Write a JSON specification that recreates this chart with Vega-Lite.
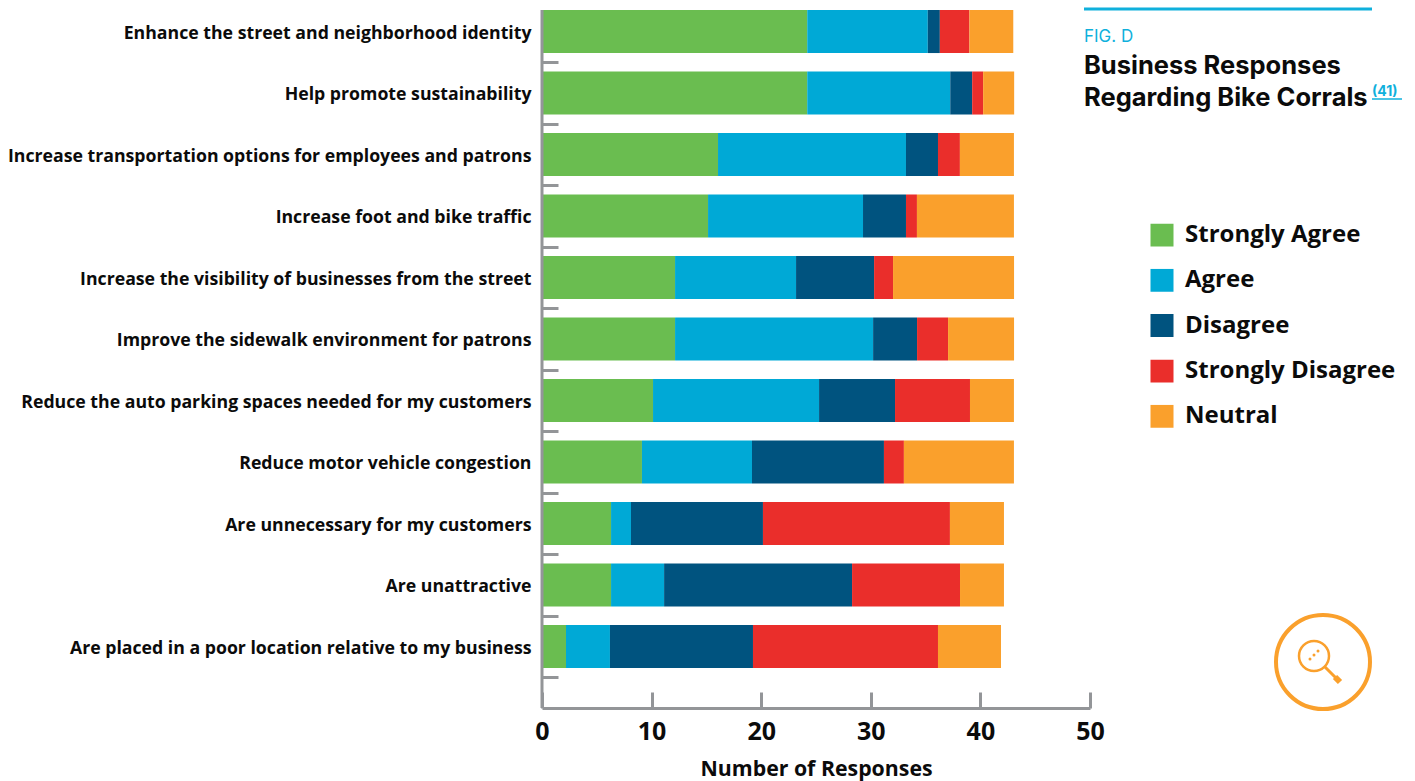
{"$schema":"https://vega.github.io/schema/vega-lite/v6.json","width":548,"height":698,"autosize":"none","padding":{"left":542,"top":10,"right":325,"bottom":73},"background":"white",
"title":{"text":"FIG. D","subtitle":["Business Responses","Regarding Bike Corrals"],"frame":"group","anchor":"start","orient":"top","offset":0,"dx":542,"dy":105,"align":"left","font":"Inter","fontSize":17,"fontWeight":"normal","color":"#0fb0dc","subtitleFont":"Inter","subtitleFontSize":25.5,"subtitleFontWeight":"bold","subtitleColor":"#0b0b0b","subtitleLineHeight":32,"subtitlePadding":8},
"data":{"values":[
{"q":"Enhance the street and neighborhood identity","r":"Strongly Agree","o":1,"n":24.2},{"q":"Enhance the street and neighborhood identity","r":"Agree","o":2,"n":11.0},{"q":"Enhance the street and neighborhood identity","r":"Disagree","o":3,"n":1.1},{"q":"Enhance the street and neighborhood identity","r":"Strongly Disagree","o":4,"n":2.7},{"q":"Enhance the street and neighborhood identity","r":"Neutral","o":5,"n":4.0},
{"q":"Help promote sustainability","r":"Strongly Agree","o":1,"n":24.2},{"q":"Help promote sustainability","r":"Agree","o":2,"n":13.05},{"q":"Help promote sustainability","r":"Disagree","o":3,"n":2.0},{"q":"Help promote sustainability","r":"Strongly Disagree","o":4,"n":1.0},{"q":"Help promote sustainability","r":"Neutral","o":5,"n":2.83},
{"q":"Increase transportation options for employees and patrons","r":"Strongly Agree","o":1,"n":16.06},{"q":"Increase transportation options for employees and patrons","r":"Agree","o":2,"n":17.15},{"q":"Increase transportation options for employees and patrons","r":"Disagree","o":3,"n":2.92},{"q":"Increase transportation options for employees and patrons","r":"Strongly Disagree","o":4,"n":2.0},{"q":"Increase transportation options for employees and patrons","r":"Neutral","o":5,"n":4.93},
{"q":"Increase foot and bike traffic","r":"Strongly Agree","o":1,"n":15.15},{"q":"Increase foot and bike traffic","r":"Agree","o":2,"n":14.14},{"q":"Increase foot and bike traffic","r":"Disagree","o":3,"n":3.92},{"q":"Increase foot and bike traffic","r":"Strongly Disagree","o":4,"n":1.0},{"q":"Increase foot and bike traffic","r":"Neutral","o":5,"n":8.85},
{"q":"Increase the visibility of businesses from the street","r":"Strongly Agree","o":1,"n":12.14},{"q":"Increase the visibility of businesses from the street","r":"Agree","o":2,"n":11.04},{"q":"Increase the visibility of businesses from the street","r":"Disagree","o":3,"n":7.12},{"q":"Increase the visibility of businesses from the street","r":"Strongly Disagree","o":4,"n":1.73},{"q":"Increase the visibility of businesses from the street","r":"Neutral","o":5,"n":11.04},
{"q":"Improve the sidewalk environment for patrons","r":"Strongly Agree","o":1,"n":12.14},{"q":"Improve the sidewalk environment for patrons","r":"Agree","o":2,"n":18.07},{"q":"Improve the sidewalk environment for patrons","r":"Disagree","o":3,"n":4.01},{"q":"Improve the sidewalk environment for patrons","r":"Strongly Disagree","o":4,"n":2.83},{"q":"Improve the sidewalk environment for patrons","r":"Neutral","o":5,"n":6.02},
{"q":"Reduce the auto parking spaces needed for my customers","r":"Strongly Agree","o":1,"n":10.13},{"q":"Reduce the auto parking spaces needed for my customers","r":"Agree","o":2,"n":15.15},{"q":"Reduce the auto parking spaces needed for my customers","r":"Disagree","o":3,"n":6.93},{"q":"Reduce the auto parking spaces needed for my customers","r":"Strongly Disagree","o":4,"n":6.84},{"q":"Reduce the auto parking spaces needed for my customers","r":"Neutral","o":5,"n":4.01},
{"q":"Reduce motor vehicle congestion","r":"Strongly Agree","o":1,"n":9.12},{"q":"Reduce motor vehicle congestion","r":"Agree","o":2,"n":10.04},{"q":"Reduce motor vehicle congestion","r":"Disagree","o":3,"n":12.04},{"q":"Reduce motor vehicle congestion","r":"Strongly Disagree","o":4,"n":1.82},{"q":"Reduce motor vehicle congestion","r":"Neutral","o":5,"n":10.04},
{"q":"Are unnecessary for my customers","r":"Strongly Agree","o":1,"n":6.3},{"q":"Are unnecessary for my customers","r":"Agree","o":2,"n":1.82},{"q":"Are unnecessary for my customers","r":"Disagree","o":3,"n":12.04},{"q":"Are unnecessary for my customers","r":"Strongly Disagree","o":4,"n":17.06},{"q":"Are unnecessary for my customers","r":"Neutral","o":5,"n":4.93},
{"q":"Are unattractive","r":"Strongly Agree","o":1,"n":6.3},{"q":"Are unattractive","r":"Agree","o":2,"n":4.84},{"q":"Are unattractive","r":"Disagree","o":3,"n":17.15},{"q":"Are unattractive","r":"Strongly Disagree","o":4,"n":9.85},{"q":"Are unattractive","r":"Neutral","o":5,"n":4.01},
{"q":"Are placed in a poor location relative to my business","r":"Strongly Agree","o":1,"n":2.19},{"q":"Are placed in a poor location relative to my business","r":"Agree","o":2,"n":4.01},{"q":"Are placed in a poor location relative to my business","r":"Disagree","o":3,"n":13.05},{"q":"Are placed in a poor location relative to my business","r":"Strongly Disagree","o":4,"n":16.88},{"q":"Are placed in a poor location relative to my business","r":"Neutral","o":5,"n":5.75}
]},
"config":{"view":{"stroke":null}},
"layer":[
{"mark":{"type":"bar"},
"encoding":{
"y":{"field":"q","type":"nominal","sort":null,"title":null,"scale":{"range":[0,658],"paddingInner":0.3,"paddingOuter":0},
"axis":{"domain":false,"grid":false,"labelFont":"Open Sans","labelFontWeight":"bold","labelFontSize":17.7,"labelColor":"#0b0b0b","labelLimit":600,"labelPadding":27,"labelOffset":-29,"tickSize":-16,"tickWidth":3,"tickColor":"#939598","tickOffset":30.75}},
"x":{"field":"n","type":"quantitative","stack":"zero","title":"Number of Responses","scale":{"domain":[0,50],"nice":false},
"axis":{"values":[0,10,20,30,40,50],"grid":false,"domainColor":"#939598","domainWidth":3,"tickSize":-16,"tickWidth":3,"tickColor":"#939598","labelFont":"Open Sans","labelFontWeight":"bold","labelFontSize":25,"labelColor":"#0b0b0b","labelPadding":27,"labelFlush":false,"titleFont":"Open Sans","titleFontWeight":"bold","titleFontSize":21.3,"titleColor":"#0b0b0b","titlePadding":14}},
"color":{"field":"r","type":"nominal","scale":{"domain":["Strongly Agree","Agree","Disagree","Strongly Disagree","Neutral"],"range":["#6abd50","#00a9d6","#00537f","#ea2e2b","#faa02c"]},
"legend":{"title":null,"orient":"none","legendX":608,"legendY":213.5,"symbolType":"square","symbolSize":529,"symbolStrokeWidth":0,"symbolOpacity":1,"labelFont":"Open Sans","labelFontWeight":"bold","labelFontSize":24,"labelColor":"#0b0b0b","labelOffset":11,"rowPadding":20.3,"labelLimit":300,"clipHeight":23}},
"order":{"field":"o","type":"quantitative"}}},
{"data":{"values":[{"k":"axis"}]},"mark":{"type":"rule","color":"#939598","strokeWidth":3},"encoding":{"x":{"value":0}}},
{"data":{"values":[{"k":"top line"}]},"mark":{"type":"rule","color":"#0fb0dc","strokeWidth":3},"encoding":{"x":{"value":542},"x2":{"value":830},"y":{"value":-1}}},
{"data":{"values":[{"t":"(41)"}]},"mark":{"type":"text","font":"Inter","fontWeight":"bold","fontSize":14,"color":"#0fb0dc","align":"left","baseline":"middle"},"encoding":{"text":{"field":"t"},"x":{"value":830},"y":{"value":82}}},
{"data":{"values":[{"k":"underline"}]},"mark":{"type":"rule","color":"#0fb0dc","strokeWidth":1.5},"encoding":{"x":{"value":830},"x2":{"value":860},"y":{"value":89}}},
{"data":{"values":[{"k":"ring"}]},"mark":{"type":"point","shape":"circle","filled":false,"color":"#faa02c","strokeWidth":4,"size":8836,"opacity":1},"encoding":{"x":{"value":781},"y":{"value":652}}},
{"data":{"values":[{"k":"lens"}]},"mark":{"type":"point","shape":"circle","filled":false,"color":"#faa02c","strokeWidth":2.5,"size":900,"opacity":1},"encoding":{"x":{"value":772},"y":{"value":646}}},
{"data":{"values":[{"k":"handle"}]},"mark":{"type":"rule","color":"#faa02c","strokeWidth":3},"encoding":{"x":{"value":783},"y":{"value":657},"x2":{"value":795},"y2":{"value":669}}},
{"data":{"values":[{"k":"handle end"}]},"mark":{"type":"rule","color":"#faa02c","strokeWidth":6},"encoding":{"x":{"value":793},"y":{"value":667},"x2":{"value":798},"y2":{"value":672}}},
{"data":{"values":[{"k":"dot"}]},"mark":{"type":"point","shape":"circle","filled":true,"color":"#faa02c","size":9,"opacity":1},"encoding":{"x":{"value":768},"y":{"value":649}}},
{"data":{"values":[{"k":"dot"}]},"mark":{"type":"point","shape":"circle","filled":true,"color":"#faa02c","size":9,"opacity":1},"encoding":{"x":{"value":772},"y":{"value":645}}},
{"data":{"values":[{"k":"dot"}]},"mark":{"type":"point","shape":"circle","filled":true,"color":"#faa02c","size":9,"opacity":1},"encoding":{"x":{"value":776},"y":{"value":641}}}
]}
